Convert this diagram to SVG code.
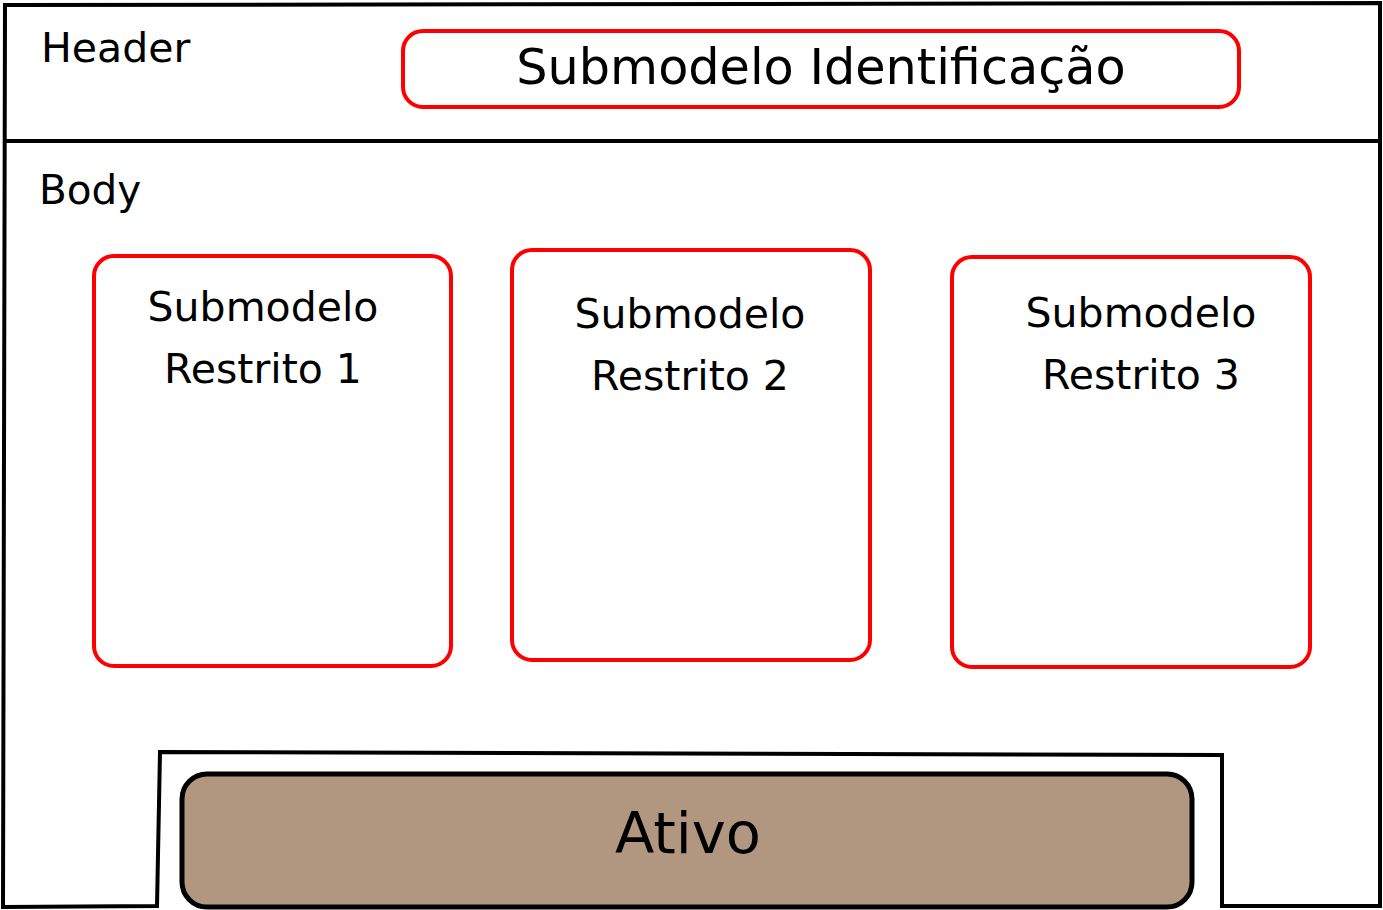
<svg xmlns="http://www.w3.org/2000/svg" width="1383" height="910" viewBox="0 0 1383 910">
<style>
.frame{fill:#fff;stroke:#000;stroke-width:4;stroke-linejoin:miter}
.red{fill:#fff;stroke:#ff0000;stroke-width:4}
.t{font-family:"DejaVu Sans",sans-serif;fill:#000}
.c{text-anchor:middle}
</style>
<rect width="1383" height="910" fill="#fff"/>
<g id="frame">
<path class="frame" d="M5,5 L1380,3 L1380,906 L1222,906 L1222,755 L160,752 L157,906 L3,907 Z"/>
<line x1="5" y1="141" x2="1380" y2="141" stroke="#000" stroke-width="4"/>
<text class="t" x="41" y="62" font-size="41">Header</text>
<text class="t" x="39" y="204" font-size="40.5">Body</text>
</g>
<g id="identificacao">
<rect class="red" x="403" y="31" width="836" height="76" rx="20"/>
<text class="t c" x="821" y="84" font-size="49.3">Submodelo Identificação</text>
</g>
<g id="restrito1">
<rect class="red" x="94" y="256" width="357" height="410" rx="20"/>
<text class="t c" x="263" y="321" font-size="41">Submodelo</text>
<text class="t c" x="263" y="383" font-size="41">Restrito 1</text>
</g>
<g id="restrito2">
<rect class="red" x="512" y="250" width="358" height="410" rx="20"/>
<text class="t c" x="690" y="328" font-size="41">Submodelo</text>
<text class="t c" x="690" y="390" font-size="41">Restrito 2</text>
</g>
<g id="restrito3">
<rect class="red" x="952" y="257" width="358" height="410" rx="20"/>
<text class="t c" x="1141" y="327" font-size="41">Submodelo</text>
<text class="t c" x="1141" y="389" font-size="41">Restrito 3</text>
</g>
<g id="ativo">
<rect x="182" y="774" width="1010" height="133" rx="25" fill="#b19780" stroke="#000" stroke-width="5"/>
<text class="t c" x="688" y="853" font-size="57.5">Ativo</text>
</g>
<g id="connectors"/>
</svg>
